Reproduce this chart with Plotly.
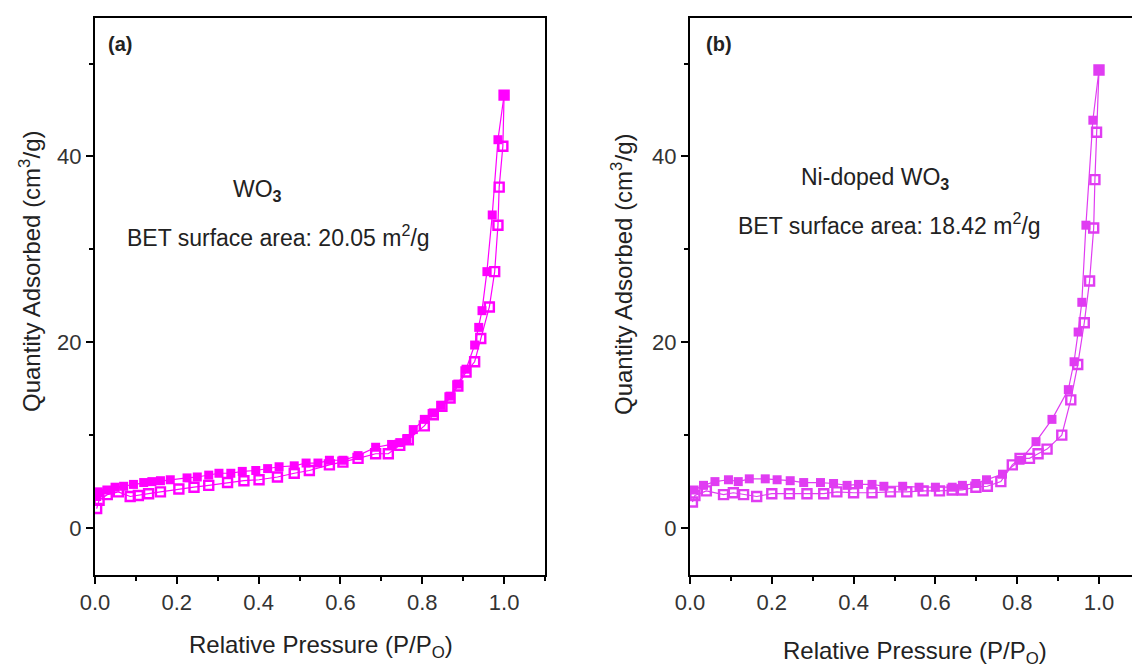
import plotly.graph_objects as go

W, H = 1132, 668

# ---- Panel (a): WO3 ----
a_ads_x = [0.004, 0.01, 0.03, 0.057, 0.086, 0.106, 0.131, 0.16, 0.205, 0.242, 0.278, 0.324, 0.364,
           0.401, 0.446, 0.487, 0.524, 0.573, 0.606, 0.643, 0.686, 0.717, 0.745, 0.766, 0.805, 0.827,
           0.848, 0.868, 0.887, 0.907, 0.928, 0.943, 0.964, 0.977, 0.985, 0.988, 0.997, 1.0]
a_ads_y = [2.1, 3.0, 3.6, 3.9, 3.4, 3.5, 3.7, 3.9, 4.2, 4.4, 4.6, 4.9, 5.1,
           5.2, 5.5, 5.9, 6.2, 6.8, 7.1, 7.5, 8.0, 8.0, 8.9, 9.5, 11.0, 12.2,
           13.1, 14.0, 15.3, 16.8, 17.9, 20.4, 23.8, 27.6, 32.6, 36.7, 41.1, 46.6]
a_des_x = [1.0, 0.985, 0.971, 0.958, 0.946, 0.938, 0.928, 0.907, 0.887, 0.868, 0.846, 0.827, 0.805,
           0.778, 0.762, 0.745, 0.725, 0.686, 0.643, 0.606, 0.573, 0.545, 0.516, 0.487, 0.45, 0.422,
           0.393, 0.36, 0.332, 0.303, 0.278, 0.25, 0.225, 0.184, 0.16, 0.139, 0.119, 0.094, 0.07,
           0.049, 0.029, 0.008, 0.004]
a_des_y = [46.6, 41.8, 33.7, 27.6, 23.4, 21.6, 19.7, 17.1, 15.5, 14.2, 13.2, 12.4, 11.7,
           10.6, 9.6, 9.2, 9.0, 8.7, 7.8, 7.3, 7.3, 7.0, 7.0, 6.7, 6.6, 6.4,
           6.2, 6.1, 5.9, 5.9, 5.7, 5.5, 5.4, 5.2, 5.1, 5.0, 4.9, 4.7, 4.5,
           4.4, 4.1, 3.9, 3.4]

# ---- Panel (b): Ni-doped WO3 ----
b_ads_x = [0.006, 0.012, 0.04, 0.082, 0.106, 0.131, 0.163, 0.2, 0.243, 0.286, 0.327, 0.359, 0.4,
           0.445, 0.49, 0.53, 0.57, 0.61, 0.641, 0.666, 0.699, 0.727, 0.76, 0.788, 0.807, 0.83,
           0.851, 0.873, 0.909, 0.931, 0.948, 0.964, 0.977, 0.987, 0.99, 0.994, 1.0]
b_ads_y = [2.8, 3.5, 4.0, 3.6, 3.8, 3.6, 3.4, 3.7, 3.7, 3.7, 3.7, 3.9, 3.8,
           3.8, 3.9, 3.9, 4.0, 4.0, 4.1, 4.1, 4.4, 4.5, 5.0, 6.8, 7.5, 7.5,
           8.0, 8.5, 10.0, 13.8, 17.6, 22.1, 26.6, 32.3, 37.5, 42.6, 49.3]
b_des_x = [1.0, 0.985, 0.968, 0.958, 0.949, 0.939, 0.925, 0.885, 0.846, 0.807, 0.764, 0.725, 0.699,
           0.666, 0.641, 0.6, 0.56, 0.52, 0.474, 0.445, 0.412, 0.384, 0.351, 0.319, 0.278, 0.245,
           0.213, 0.184, 0.145, 0.118, 0.094, 0.061, 0.033, 0.01]
b_des_y = [49.3, 43.9, 32.6, 24.3, 21.1, 17.9, 14.9, 11.7, 9.3, 7.3, 5.8, 5.2, 4.8,
           4.6, 4.4, 4.4, 4.4, 4.5, 4.5, 4.7, 4.7, 4.6, 4.8, 4.9, 4.9, 5.1,
           5.2, 5.3, 5.3, 5.0, 5.2, 5.0, 4.6, 4.1]

x_ticks = [0.0, 0.2, 0.4, 0.6, 0.8, 1.0]
x_tick_labels = ["0.0", "0.2", "0.4", "0.6", "0.8", "1.0"]
y_ticks = [0, 20, 40]
y_tick_labels = ["0", "20", "40"]

COL_A = "#FF00FF"
COL_B = "#E03CF2"
FONT = "Liberation Sans, Arial, sans-serif"
TXT = "#222222"


def px(x):
    return x / W


def py(y):
    return 1 - y / H


fig = go.Figure()


def add_pair(xa, ya, xd, yd, col, xax, yax):
    fig.add_trace(go.Scatter(
        x=xa, y=ya, mode="lines+markers", xaxis=xax, yaxis=yax, showlegend=False,
        line=dict(color=col, width=1.2),
        marker=dict(symbol="square-open", size=9, color=col, line=dict(color=col, width=2.4))))
    fig.add_trace(go.Scatter(
        x=xd, y=yd, mode="lines+markers", xaxis=xax, yaxis=yax, showlegend=False,
        line=dict(color=col, width=1.2),
        marker=dict(symbol="square", size=9, color=col, line=dict(color=col, width=0))))


add_pair(a_ads_x, a_ads_y, a_des_x, a_des_y, COL_A, "x", "y")
add_pair(b_ads_x, b_ads_y, b_des_x, b_des_y, COL_B, "x2", "y2")

axis_common = dict(
    showline=True, linecolor="black", linewidth=2, mirror=True,
    ticks="outside", ticklen=7, tickwidth=2, tickcolor="black",
    showgrid=False, zeroline=False, automargin=False,
    tickfont=dict(family=FONT, size=22, color="#333333"),
)
minor_x = dict(dtick=0.1, tick0=0, ticks="outside", ticklen=4, tickwidth=2, tickcolor="black")
minor_y = dict(dtick=10, tick0=0, ticks="outside", ticklen=4, tickwidth=2, tickcolor="black")

YDOM = [py(575), py(18)]
YRANGE = [-5.05, 54.9]

fig.update_layout(
    width=W, height=H,
    margin=dict(l=0, r=0, t=0, b=0, pad=0),
    paper_bgcolor="white", plot_bgcolor="white",
    xaxis=dict(domain=[px(95), px(545)], range=[0, 1.1], anchor="y",
               tickvals=x_ticks, ticktext=x_tick_labels, minor=minor_x, **axis_common),
    yaxis=dict(domain=YDOM, range=YRANGE, anchor="x",
               tickvals=y_ticks, ticktext=y_tick_labels, minor=minor_y, **axis_common),
    xaxis2=dict(domain=[px(690), 1.0], range=[0, (1132 - 690) / 409], anchor="y2",
                tickvals=x_ticks, ticktext=x_tick_labels, minor=minor_x, **axis_common),
    yaxis2=dict(domain=YDOM, range=YRANGE, anchor="x2",
                tickvals=y_ticks, ticktext=y_tick_labels, minor=minor_y, **axis_common),
)

ann = []


def note(text, x, y, size=23, xanchor="center", angle=0, bold=False):
    if bold:
        text = "<b>" + text + "</b>"
    ann.append(dict(text=text, x=px(x), y=py(y), xref="paper", yref="paper",
                    xanchor=xanchor, yanchor="middle", showarrow=False, textangle=angle,
                    font=dict(family=FONT, size=size, color=TXT)))


note("(a)", 106, 44, size=20, xanchor="left", bold=True)
note("(b)", 704, 44, size=20, xanchor="left", bold=True)
note("WO<sub><b>3</b></sub>", 257, 190, size=23)
note("BET surface area: 20.05 m<sup>2</sup>/g", 278, 236, size=23)
note("Ni-doped WO<sub><b>3</b></sub>", 875, 178, size=23)
note("BET surface area: 18.42 m<sup>2</sup>/g", 889, 224, size=23)
note("Quantity Adsorbed (cm<sup>3</sup>/g)", 30, 272, size=24, angle=-90)
note("Quantity Adsorbed (cm<sup>3</sup>/g)", 622, 275, size=24, angle=-90)
note("Relative Pressure (P/P<sub>O</sub>)", 321, 646, size=24)
note("Relative Pressure (P/P<sub>O</sub>)", 915, 652, size=24)

fig.update_layout(annotations=ann)

fig.write_html("out.html")
